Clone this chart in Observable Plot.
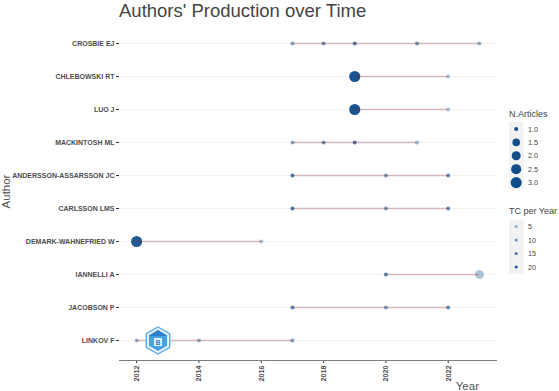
<!DOCTYPE html>
<html><head><meta charset="utf-8">
<script src="https://cdn.jsdelivr.net/npm/d3@7"></script>
<script src="https://cdn.jsdelivr.net/npm/@observablehq/plot@0.6"></script>
<style>
html,body{margin:0;padding:0;background:#fff;}
#wrap{position:relative;width:559px;height:391px;overflow:hidden;font-family:"Liberation Sans",Arial,sans-serif;}
#wrap svg{position:absolute;left:0;top:0;}
</style></head><body><div id="wrap"></div>
<script>
// ---- data ----
const authors = ["CROSBIE EJ","CHLEBOWSKI RT","LUO J","MACKINTOSH ML","ANDERSSON-ASSARSSON JC","CARLSSON LMS","DEMARK-WAHNEFRIED W","IANNELLI A","JACOBSON P","LINKOV F"];
const pointAuthor = [
  "CROSBIE EJ","CROSBIE EJ","CROSBIE EJ","CROSBIE EJ","CROSBIE EJ",
  "CHLEBOWSKI RT","CHLEBOWSKI RT",
  "LUO J","LUO J",
  "MACKINTOSH ML","MACKINTOSH ML","MACKINTOSH ML","MACKINTOSH ML",
  "ANDERSSON-ASSARSSON JC","ANDERSSON-ASSARSSON JC","ANDERSSON-ASSARSSON JC",
  "CARLSSON LMS","CARLSSON LMS","CARLSSON LMS",
  "DEMARK-WAHNEFRIED W","DEMARK-WAHNEFRIED W",
  "IANNELLI A","IANNELLI A",
  "JACOBSON P","JACOBSON P","JACOBSON P",
  "LINKOV F","LINKOV F","LINKOV F"];
const pointYear = [2017,2018,2019,2021,2023, 2019,2022, 2019,2022, 2017,2018,2019,2021, 2017,2020,2022, 2017,2020,2022, 2012,2016, 2020,2023, 2017,2020,2022, 2012,2014,2017];
const nArticles = [1,1,1,1,1, 3,1, 3,1, 1,1,1,1, 1,1,1, 1,1,1, 3,1, 1,2, 1,1,1, 1,1,1];
const tcPerYear = [7,10,13,9,6, 21,3, 21,3, 6,10,14,5, 14,8,12, 14,8,12, 20,4, 13,3, 12,8,11, 5,5,8];
const xTicks = [2012,2014,2016,2018,2020,2022];
const nLegend = [1.0,1.5,2.0,2.5,3.0];
const tcLegend = [5,10,15,20];

const data = pointAuthor.map((a,i)=>({author:a, year:pointYear[i], n:nArticles[i], tc:tcPerYear[i]}));
const spans = d3.rollups(data, v=>[d3.min(v,d=>d.year), d3.max(v,d=>d.year)], d=>d.author)
  .map(([author,[s,e]])=>({author, start:s, end:e}));

const FONT = '"Liberation Sans", Arial, sans-serif';
const chart = Plot.plot({
  width:559, height:391, marginLeft:119, marginRight:63, marginTop:23, marginBottom:31,
  style:{fontFamily:FONT, background:"transparent", overflow:"visible"},
  x:{domain:[2011.45,2023.55]},
  y:{type:"point", domain:authors, padding:0.6},
  r:{type:"linear", domain:nLegend, range:[2.04,3.8,4.5,5.06,5.54]},
  opacity:{type:"linear", domain:[2,22], range:[0.3,1], clamp:true},
  marks:[
    Plot.gridY({stroke:"#ebebeb", strokeOpacity:1, strokeWidth:0.6}),
    Plot.axisY({tickSize:3, tickPadding:2, fontSize:7, fontWeight:"bold", fill:"#4d4d4d", stroke:"#333", label:null}),
    Plot.axisX({ticks:xTicks, tickFormat:d=>String(d), tickRotate:-90, tickSize:3, tickPadding:2, fontSize:7.2, fontWeight:"bold", fill:"#4d4d4d", stroke:"#333", label:null}),
    Plot.frame({anchor:"bottom", stroke:"#7f7f7f", strokeWidth:1}),
    Plot.dot(data, {x:"year", y:"author", r:"n", fill:"#104E8B", fillOpacity:"tc"}),
    Plot.ruleY(spans, {y:"author", x1:"start", x2:"end", stroke:"#8B1A1A", strokeOpacity:0.28, strokeWidth:1.7})
  ]
});
const wrap = document.getElementById("wrap");
wrap.appendChild(chart);

// ---- overlay: titles, legend, logo ----
const rS = chart.scale("r"), oS = chart.scale("opacity");
const ov = d3.select(wrap).append("svg").attr("width",559).attr("height",391)
  .style("font-family",FONT);

ov.append("text").attr("x",119).attr("y",16.8).attr("font-size",18.5).attr("fill","#444").text("Authors' Production over Time");
ov.append("text").attr("transform","translate(9.8,191.5) rotate(-90)").attr("text-anchor","middle")
  .attr("font-size",11.5).attr("fill","#555").text("Author");
ov.append("text").attr("x",479).attr("y",389.5).attr("text-anchor","end")
  .attr("font-size",11.5).attr("fill","#555").text("Year");

// legend 1
const lg = ov.append("g");
lg.append("text").attr("x",509).attr("y",116.5).attr("font-size",9).attr("fill","#444").text("N.Articles");
lg.append("rect").attr("x",509).attr("y",122.3).attr("width",14.5).attr("height",67).attr("fill","#f2f2f2");
nLegend.forEach((v,i)=>{
  const y = 129 + i*13.4;
  lg.append("circle").attr("cx",516.2).attr("cy",y).attr("r",rS.apply(v)).attr("fill","#104E8B");
  lg.append("text").attr("x",528).attr("y",y).attr("dy","0.35em").attr("font-size",7.2).attr("fill","#444").text(v.toFixed(1));
});
lg.append("text").attr("x",509).attr("y",213.5).attr("font-size",9).attr("fill","#444").text("TC per Year");
lg.append("rect").attr("x",509).attr("y",219.8).attr("width",14.5).attr("height",54).attr("fill","#f2f2f2");
tcLegend.forEach((v,i)=>{
  const y = 226.5 + i*13.5;
  lg.append("circle").attr("cx",516.2).attr("cy",y).attr("r",1.6).attr("fill","#104E8B").attr("fill-opacity",oS.apply(v));
  lg.append("text").attr("x",528).attr("y",y).attr("dy","0.35em").attr("font-size",7.2).attr("fill","#444").text(String(v));
});

// logo watermark (decoration)
const hex = (cx,cy,r)=>d3.range(6).map(k=>{const a=Math.PI/3*k-Math.PI/2;return [cx+r*Math.cos(a),cy+r*Math.sin(a)];}).map(p=>p.join(",")).join(" ");
const logo = ov.append("g");
logo.append("polygon").attr("points",hex(158,340.5,13.5)).attr("fill","#eaf4fc").attr("stroke","#5da9e9").attr("stroke-width",1.4);
logo.append("polygon").attr("points",hex(158,340.5,10.5)).attr("fill","#46a3e3");
logo.append("path").attr("d","M149,336 L158,330 L167,336 Z").attr("fill","#2f7fc9");
logo.append("rect").attr("x",154).attr("y",338).attr("width",8).attr("height",8).attr("fill","#e8f4ff");
logo.append("text").attr("x",158).attr("y",345).attr("text-anchor","middle").attr("font-size",7).attr("font-weight","bold").attr("fill","#2f7fc9").text("B");
</script></body></html>
